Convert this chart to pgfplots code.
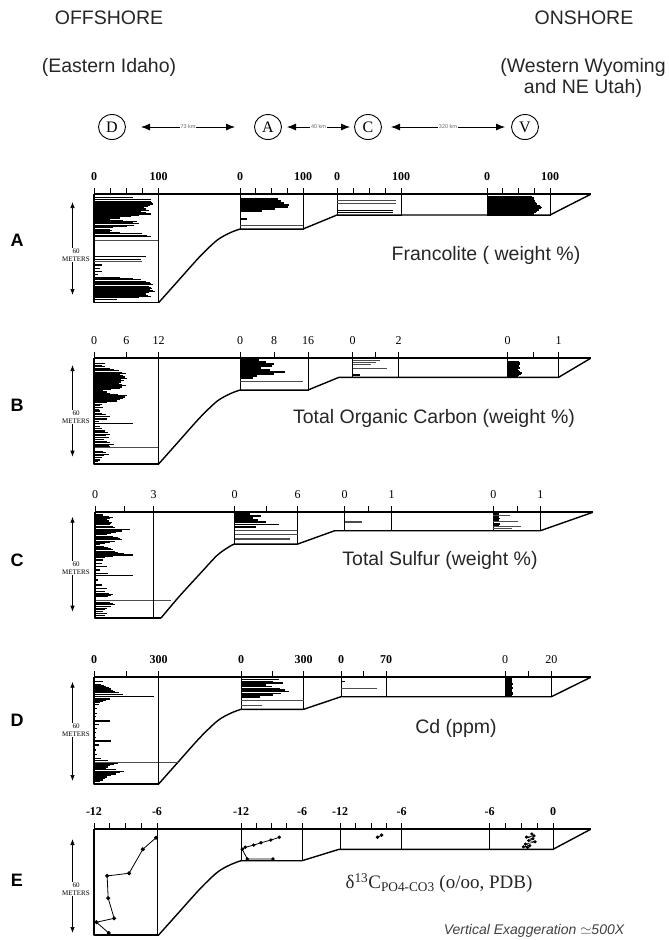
\documentclass[border=0pt]{standalone}
\usepackage{pgfplots}
\pgfplotsset{compat=1.18}
\usepackage{pgfplotstable}
\usepackage{fontspec}
\setmainfont{Liberation Sans}
\newfontfamily\serif{Liberation Serif}
\usetikzlibrary{arrows.meta,shapes.geometric}

\pgfplotsset{
  bg/.style={at={(0pt,0pt)}, anchor=north west, scale only axis,
    width=669pt, height=940pt, xmin=0, xmax=669, ymin=0, ymax=940,
    y dir=reverse, hide axis, clip=false},
  col/.style={scale only axis, anchor=north west, y dir=reverse, ymin=0,
    enlargelimits=false, clip=false,
    axis line style={line width=0.9pt},
    ytick=\empty, xtick pos=right, xticklabel pos=right, tick align=outside,
    major tick length=6pt, minor tick length=6pt,
    tick style={black, line width=0.7pt},
    xticklabel style={font=\serif\fontsize{12}{12}\selectfont, inner sep=0pt,
      text height=8.2pt, text depth=0pt, anchor=south, yshift=8pt}},
  boldlab/.style={xticklabel style={font=\serif\bfseries\fontsize{12}{12}\selectfont}},
  bars/.style={xcomb, black, line width=1.1pt},
  blk/.style={xcomb, black, line width=1.6pt},
  thinbars/.style={xcomb, black!70, line width=0.6pt},
  outline/.style={black, line width=1.4pt, line join=round},
  topline/.style={black, line width=2.2pt},
  pts/.style={black, line width=0.8pt, mark=*, mark size=1.6pt},
}

% ---------- Panel A: Francolite (weight %) ----------
\pgfplotstableread{
d v
2.0 60
3.6 88
4.7 88
5.5 90
6.2 91
7.0 86
7.9 83
8.6 78
9.4 80
10.3 85
11.1 72
11.9 80
12.6 88
13.4 70
14.3 57
15.2 40
16.0 25
16.8 45
17.5 67
18.3 60
19.0 70
19.8 62
20.7 51
21.5 30
22.4 25
23.1 28
23.9 25
24.7 40
25.4 75
26.3 82
27.1 88
40.0 80
41.7 72
43.2 25
45.3 12
47.4 9
49.6 12
51.7 6
53.3 40
54.1 60
54.9 72
55.7 80
56.6 86
57.4 89
58.1 91
58.9 85
59.6 88
60.2 90
60.9 86
61.7 92
62.4 94
63.2 85
63.9 80
64.7 84
65.6 88
66.4 70
67.3 35
}\tabAD
\pgfplotstableread{
d v
43.2 75
}\tabADthin
\pgfplotstableread{
d v
3.0 60
4.3 65
5.6 70
6.9 78
8.1 76
9.4 55
10.7 35
15.8 11
}\tabAA
\pgfplotstableread{
d v
19.8 100
}\tabAAthin
\pgfplotstableread{
d v
3.7 92
5.8 92
}\tabACthin
\pgfplotstableread{
d v
10.5 88
11.7 88
}\tabAC
\pgfplotstableread{
d v
1.5 72
2.2 74
2.9 73
3.6 75
4.3 76
5.0 74
5.7 78
6.4 80
7.1 84
7.8 86
8.5 88
9.2 85
9.9 82
10.6 80
11.3 78
12.0 75
12.7 74
}\tabAV

% ---------- Panel B: TOC (weight %) ----------
\pgfplotstableread{
d v
3.2 2.1
4.7 1.4
5.5 2.0
6.4 3.0
7.2 3.8
8.1 4.6
8.9 5.2
9.6 5.9
10.4 4.8
11.1 5.3
12.0 5.8
12.8 6.2
13.7 5.0
14.5 5.6
15.2 5.1
16.0 4.6
16.8 5.2
17.5 5.9
18.4 5.2
19.2 4.9
20.0 3.2
20.9 1.7
21.6 2.4
22.4 3.0
23.1 4.5
23.9 6.2
24.8 5.8
25.6 5.3
26.5 4.8
27.4 4.3
28.4 2.5
29.5 1.4
30.5 1.2
31.6 1.7
32.7 1.0
33.8 1.1
35.3 1.4
36.3 2.2
37.4 3.0
38.9 2.4
40.5 1.0
42.1 7.2
43.8 1.1
45.2 1.5
46.6 2.1
47.6 2.6
48.7 3.0
49.8 2.2
50.9 2.7
52.1 1.8
53.4 2.4
54.2 3.0
55.1 3.7
55.8 2.8
56.6 3.0
59.8 1.7
60.6 2.2
61.5 2.7
62.6 1.9
63.7 1.4
65.2 1.1
66.3 0.8
}\tabBD
\pgfplotstableread{
d v
1.1 4.5
2.4 6
3.7 8
4.9 7.5
6.2 5
7.5 7
8.8 10.5
10.1 8
11.3 4
12.6 3
}\tabBA
\pgfplotstableread{
d v
15.0 14.8
}\tabBAthin
\pgfplotstableread{
d v
1.1 1.2
2.4 1.0
3.7 0.8
6.4 1.5
}\tabBCthin
\pgfplotstableread{
d v
10.7 0.3
}\tabBC
\pgfplotstableread{
d v
2.4 0.22
3.1 0.24
3.8 0.25
4.5 0.23
5.2 0.22
5.9 0.24
6.6 0.25
7.3 0.20
8.0 0.22
8.7 0.24
9.4 0.28
10.1 0.26
10.8 0.22
11.5 0.20
}\tabBV

% ---------- Panel C: Total sulfur (weight %) ----------
\pgfplotstableread{
d v
1.7 0.42
2.6 0.70
3.4 0.93
4.2 0.75
4.9 0.59
5.6 0.70
6.4 0.85
7.2 0.80
8.1 0.76
9.0 0.90
9.8 1.00
11.3 1.78
12.0 1.40
12.8 1.10
13.7 0.80
14.5 0.60
15.4 0.90
16.2 1.19
17.0 1.30
17.7 1.36
18.5 1.00
19.2 0.76
20.1 0.50
20.9 0.25
21.8 0.45
22.6 0.68
23.4 0.80
24.1 0.93
24.9 1.05
25.6 1.19
26.5 1.50
27.4 1.95
28.2 0.90
29.1 0.50
30.6 0.42
32.7 0.34
34.8 0.60
37.0 0.25
39.1 0.68
40.8 1.95
43.4 0.17
46.6 0.34
49.1 0.60
50.9 0.50
51.8 0.70
52.6 0.93
53.4 0.80
54.1 0.68
57.7 0.76
58.5 0.90
59.4 1.00
60.4 0.80
61.5 0.60
62.6 0.50
63.7 0.42
64.8 0.60
66.0 0.50
}\tabCD
\pgfplotstableread{
d v
1.1 1.5
2.4 2.5
3.7 1.8
4.9 2.2
6.2 3.0
7.8 4.2
9.4 2.0
}\tabCA
\pgfplotstableread{
d v
11.3 5.9
13.9 6.0
16.5 5.3
17.2 5.3
}\tabCAthin
\pgfplotstableread{
d v
5.5 0.38
6.3 0.38
}\tabCCthin
\pgfplotstableread{
d v
1.0 0.12
3.0 0.12
4.0 0.15
5.0 0.12
7.5 0.15
8.5 0.12
10.5 0.12
}\tabCV
\pgfplotstableread{
d v
2.0 0.35
6.0 0.53
9.2 0.58
10.0 0.40
}\tabCVthin

% ---------- Panel D: Cd (ppm) ----------
\pgfplotstableread{
d v
2.8 40
4.5 32
5.3 45
6.0 56
6.8 70
7.5 80
8.3 90
9.2 96
10.0 115
10.9 136
12.4 279
13.9 72
14.7 55
15.6 40
16.4 30
17.3 24
19.9 16
23.1 16
25.3 8
28.0 72
30.1 24
32.7 16
35.3 11
38.7 8
40.8 80
43.4 24
46.6 11
49.4 16
51.9 32
53.5 64
55.1 112
55.9 95
56.7 72
57.5 64
58.3 56
59.2 100
60.1 140
61.0 120
62.0 100
62.9 80
63.9 60
64.8 50
65.8 40
66.8 30
}\tabDD
\pgfplotstableread{
d v
1.4 180
2.8 155
3.8 200
4.9 120
6.0 150
7.1 185
8.1 210
9.2 230
10.3 190
11.3 155
12.6 90
}\tabDA
\pgfplotstableread{
d v
14.6 300
17.8 100
}\tabDAthin
\pgfplotstableread{
d v
2.8 6
}\tabDC
\pgfplotstableread{
d v
7.1 56
}\tabDCthin
\pgfplotstableread{
d v
0.7 3.0
1.4 3.2
2.1 3.0
2.8 2.8
3.5 3.1
4.2 3.3
4.9 3.0
5.6 2.9
6.3 3.2
7.0 3.4
7.7 3.1
8.4 3.0
9.1 2.9
9.8 3.3
10.5 3.5
11.2 3.2
11.9 3.0
}\tabDV

% ---------- Panel E: d13C ----------
\pgfplotstableread{
v d
-6.10 5.4
-7.35 12.8
-8.66 28.2
-10.75 29.9
-10.65 44.2
-10.08 57.1
-11.77 59.6
-10.60 66.5
}\tabED
\pgfplotstableread{
v d
-8.23 5.1
-9.07 6.9
-10.03 8.6
-10.75 10.1
-11.59 11.5
-11.88 12.8
-11.38 19.0
-8.85 19.0
}\tabEA
\pgfplotstableread{
v d
-7.95 3.7
-8.36 5.1
}\tabEC
\pgfplotstableread{
v d
-2.0 3.0
-1.8 4.2
-2.5 5.0
-1.9 6.0
-2.3 7.2
-1.7 8.0
-2.6 9.5
-2.2 10.5
-2.8 11.2
-2.4 11.6
}\tabEV

\begin{document}
\begin{tikzpicture}
\useasboundingbox (0,0) rectangle (669pt,-940pt);

\begin{axis}[bg]
% header
\node[font=\fontsize{19.5}{21}\selectfont, text=black!85] at (axis cs:109,18) {OFFSHORE};
\node[font=\fontsize{19.5}{21}\selectfont, text=black!85] at (axis cs:109,67) {(Eastern Idaho)};
\node[font=\fontsize{19.5}{21}\selectfont, text=black!85] at (axis cs:584,18) {ONSHORE};
\node[font=\fontsize{19.5}{21}\selectfont, text=black!85, align=center] at (axis cs:583,78) {(Western Wyoming\\and NE Utah)};
\foreach \lx/\lt in {112/D,268/A,368/C,525/V}{
  \edef\tmp{\noexpand\node[draw, ellipse, line width=0.9pt, minimum width=27pt, minimum height=25pt, inner sep=0pt, font=\noexpand\serif\noexpand\fontsize{16}{16}\noexpand\selectfont] at (axis cs:\lx,127) {\lt};}\tmp
}
\draw[{Latex[length=9pt,width=7pt]}-{Latex[length=9pt,width=7pt]}, line width=0.8pt, black] (axis cs:141,127) -- (axis cs:235,127);
\draw[{Latex[length=9pt,width=7pt]}-{Latex[length=9pt,width=7pt]}, line width=0.8pt, black] (axis cs:287,127) -- (axis cs:350,127);
\draw[{Latex[length=9pt,width=7pt]}-{Latex[length=9pt,width=7pt]}, line width=0.8pt, black] (axis cs:391,127) -- (axis cs:505,127);
\node[fill=white, inner sep=1pt, font=\fontsize{5.5}{6}\selectfont, text=black!60] at (axis cs:188,127) {73 km};
\node[fill=white, inner sep=1pt, font=\fontsize{5.5}{6}\selectfont, text=black!60] at (axis cs:318.5,127) {40 km};
\node[fill=white, inner sep=1pt, font=\fontsize{5.5}{6}\selectfont, text=black!60] at (axis cs:448,127) {320 km};

% panel letters
\foreach \py/\pl in {240/A,405/B,560/C,720/D,880/E}{
  \edef\tmp{\noexpand\node[font=\noexpand\fontsize{18}{18}\noexpand\selectfont\noexpand\bfseries] at (axis cs:17,\py) {\pl};}\tmp
}

% ===== Panel A outline =====
\addplot[outline] coordinates {(94,194.3) (94,302.7) (158.6,302.7)};
\addplot[outline, smooth] coordinates {(158.6,302.7) (178.95,279.85) (200.1,256.3) (217.2,240.1) (230.2,232.7) (240,229)};
\addplot[outline] coordinates {(240,229) (303,229) (337,215) (550,215) (590.6,194.3)};
\addplot[topline] coordinates {(94,194.3) (590.6,194.3)};
\addplot[black!70, line width=0.6pt] coordinates {(94,240) (158.6,240)};
% ===== Panel B outline =====
\addplot[outline] coordinates {(94,358.3) (94,464) (158.6,464)};
\addplot[outline, smooth] coordinates {(158.6,464) (178.95,441.1) (200.1,417.4) (217.2,401.1) (230.2,393.7) (240,390)};
\addplot[outline] coordinates {(240,390) (308,390) (339,377.3) (558.6,377.3) (590.6,358.3)};
\addplot[topline] coordinates {(94,358.3) (590.6,358.3)};
\addplot[black!70, line width=0.6pt] coordinates {(94,447.7) (158.6,447.7)};
% ===== Panel C outline =====
\addplot[outline] coordinates {(95,512.3) (95,618) (161,618)};
\addplot[outline, smooth] coordinates {(161,618) (179,596.7) (200.4,573.3) (217.5,555) (230.3,546) (234.5,544)};
\addplot[outline] coordinates {(234.5,544) (297.7,544) (334.7,530.7) (540.3,530.7) (592.8,512.3)};
\addplot[topline] coordinates {(95,512.3) (592.8,512.3)};
\addplot[black!70, line width=0.6pt] coordinates {(95,600) (170.6,600)};
% ===== Panel D outline =====
\addplot[outline] coordinates {(94,677.3) (94,784) (158.6,784)};
\addplot[outline, smooth] coordinates {(158.6,784) (179.2,760.8) (200.6,736.9) (217.9,720.5) (231.1,713) (241,709.3)};
\addplot[outline] coordinates {(241,709.3) (303.6,709.3) (341,696.7) (551.4,696.7) (590.6,677.3)};
\addplot[topline] coordinates {(94,677.3) (590.6,677.3)};
\addplot[black!70, line width=0.6pt] coordinates {(94,762.3) (178,762.3)};
% ===== Panel E outline =====
\addplot[outline] coordinates {(94,829.3) (94,935) (158.6,935)};
\addplot[outline, smooth] coordinates {(158.6,935) (179.2,912) (200.6,888.2) (217.9,871.8) (231.1,864.4) (241,860.7)};
\addplot[outline] coordinates {(241,860.7) (302,860.7) (339,849.3) (553,849.3) (590.6,829.3)};
\addplot[topline] coordinates {(94,829.3) (590.6,829.3)};

% scale bars
\foreach \ya/\yb/\ym in {202/295/255, 365/456.7/417, 516.7/611.7/568, 681.7/781/730, 839/933/889}{
  \edef\tmp{\noexpand\draw[{Latex[length=6pt,width=4.5pt]}-{Latex[length=6pt,width=4.5pt]}, line width=0.7pt, black] (axis cs:72.5,\ya) -- (axis cs:72.5,\yb);
  \noexpand\node[fill=white, inner sep=0.5pt, align=center, font=\noexpand\serif\noexpand\fontsize{7}{7.5}\noexpand\selectfont] at (axis cs:76,\ym) {60\noexpand\\METERS};}\tmp
}

% titles
\node[font=\fontsize{19.5}{21}\selectfont, text=black!85] at (axis cs:486,255) {Francolite ( weight \%)};
\node[font=\fontsize{19.5}{21}\selectfont, text=black!85] at (axis cs:434,418) {Total Organic Carbon (weight \%)};
\node[font=\fontsize{19.5}{21}\selectfont, text=black!85] at (axis cs:440,560) {Total Sulfur (weight \%)};
\node[font=\fontsize{19.5}{21}\selectfont, text=black!85] at (axis cs:456,728) {Cd (ppm)};
\node[font=\serif\fontsize{19}{21}\selectfont, text=black!85] at (axis cs:439,883) {δ\textsuperscript{13}C\textsubscript{PO4-CO3} (o/oo, PDB)};
\node[font=\itshape\fontsize{14}{15}\selectfont, text=black!75] at (axis cs:534,931) {Vertical Exaggeration $\simeq$500X};
\end{axis}

% ================= Panel A sub-axes =================
\begin{axis}[col, boldlab, at={(94pt,-194.3pt)}, width=64.6pt, height=108.4pt, xmin=0, xmax=100, ymax=69.5,
  xtick={0,100}, xticklabels={0,100}, minor xtick={25,50,75}]
\addplot[bars] table[x=v,y=d] {\tabAD};
\addplot[thinbars] table[x=v,y=d] {\tabADthin};
\end{axis}
\begin{axis}[col, boldlab, at={(240pt,-194.3pt)}, width=63pt, height=34.7pt, xmin=0, xmax=100, ymax=22.2,
  xtick={0,100}, xticklabels={0,100}, minor xtick={25,50,75}]
\addplot[blk] table[x=v,y=d] {\tabAA};
\addplot[thinbars] table[x=v,y=d] {\tabAAthin};
\end{axis}
\begin{axis}[col, boldlab, at={(337pt,-194.3pt)}, width=64pt, height=20.7pt, xmin=0, xmax=100, ymax=13.3,
  xtick={0,100}, xticklabels={0,100}, minor xtick={25,50,75}]
\addplot[blk] table[x=v,y=d] {\tabAC};
\addplot[thinbars] table[x=v,y=d] {\tabACthin};
\end{axis}
\begin{axis}[col, boldlab, at={(487pt,-194.3pt)}, width=63pt, height=20.7pt, xmin=0, xmax=100, ymax=13.3,
  xtick={0,100}, xticklabels={0,100}, minor xtick={25,50,75}]
\addplot[blk] table[x=v,y=d] {\tabAV};
\end{axis}

% ================= Panel B sub-axes =================
\begin{axis}[col, at={(94pt,-358.3pt)}, width=64.6pt, height=105.7pt, xmin=0, xmax=12, ymax=67.8,
  xtick={0,6,12}, xticklabels={0,6,12}]
\addplot[bars] table[x=v,y=d] {\tabBD};
\end{axis}
\begin{axis}[col, at={(240pt,-358.3pt)}, width=68pt, height=31.7pt, xmin=0, xmax=16, ymax=20.3,
  xtick={0,8,16}, xticklabels={0,8,16}]
\addplot[blk] table[x=v,y=d] {\tabBA};
\addplot[thinbars] table[x=v,y=d] {\tabBAthin};
\end{axis}
\begin{axis}[col, at={(352.7pt,-358.3pt)}, width=46pt, height=19pt, xmin=0, xmax=2, ymax=12.2,
  xtick={0,2}, xticklabels={0,2}, minor xtick={1}]
\addplot[blk] table[x=v,y=d] {\tabBC};
\addplot[thinbars] table[x=v,y=d] {\tabBCthin};
\end{axis}
\begin{axis}[col, at={(507.5pt,-358.3pt)}, width=51.1pt, height=19pt, xmin=0, xmax=1, ymax=12.2,
  xtick={0,1}, xticklabels={0,1}, minor xtick={0.5}]
\addplot[blk] table[x=v,y=d] {\tabBV};
\end{axis}

% ================= Panel C sub-axes =================
\begin{axis}[col, at={(95pt,-512.3pt)}, width=58.5pt, height=105.7pt, xmin=0, xmax=3, ymax=67.8,
  xtick={0,3}, xticklabels={0,3}, minor xtick={1.5}]
\addplot[bars] table[x=v,y=d] {\tabCD};
\end{axis}
\begin{axis}[col, at={(234.5pt,-512.3pt)}, width=63.2pt, height=31.7pt, xmin=0, xmax=6, ymax=20.3,
  xtick={0,6}, xticklabels={0,6}, minor xtick={3}]
\addplot[blk] table[x=v,y=d] {\tabCA};
\addplot[thinbars] table[x=v,y=d] {\tabCAthin};
\end{axis}
\begin{axis}[col, at={(344.6pt,-512.3pt)}, width=46.9pt, height=18.4pt, xmin=0, xmax=1, ymax=11.8,
  xtick={0,1}, xticklabels={0,1}, minor xtick={0.5}]
\addplot[thinbars] table[x=v,y=d] {\tabCCthin};
\end{axis}
\begin{axis}[col, at={(493.4pt,-512.3pt)}, width=46.9pt, height=18.4pt, xmin=0, xmax=1, ymax=11.8,
  xtick={0,1}, xticklabels={0,1}, minor xtick={0.5}]
\addplot[blk] table[x=v,y=d] {\tabCV};
\addplot[thinbars] table[x=v,y=d] {\tabCVthin};
\end{axis}

% ================= Panel D sub-axes =================
\begin{axis}[col, boldlab, at={(94pt,-677.3pt)}, width=64.6pt, height=106.7pt, xmin=0, xmax=300, ymax=68.4,
  xtick={0,300}, xticklabels={0,300}, minor xtick={150}]
\addplot[bars] table[x=v,y=d] {\tabDD};
\end{axis}
\begin{axis}[col, boldlab, at={(241pt,-677.3pt)}, width=62.6pt, height=32pt, xmin=0, xmax=300, ymax=20.5,
  xtick={0,300}, xticklabels={0,300}, minor xtick={150}]
\addplot[blk] table[x=v,y=d] {\tabDA};
\addplot[thinbars] table[x=v,y=d] {\tabDAthin};
\end{axis}
\begin{axis}[col, boldlab, at={(341pt,-677.3pt)}, width=45pt, height=19.4pt, xmin=0, xmax=70, ymax=12.4,
  xtick={0,70}, xticklabels={0,70}, minor xtick={35}]
\addplot[blk] table[x=v,y=d] {\tabDC};
\addplot[thinbars] table[x=v,y=d] {\tabDCthin};
\end{axis}
\begin{axis}[col, at={(505pt,-677.3pt)}, width=46.4pt, height=19.4pt, xmin=0, xmax=20, ymax=12.4,
  xtick={0,20}, xticklabels={0,20}, minor xtick={10}]
\addplot[blk] table[x=v,y=d] {\tabDV};
\end{axis}

% ================= Panel E sub-axes =================
\begin{axis}[col, boldlab, at={(94pt,-829.3pt)}, width=63pt, height=105.7pt, xmin=-12, xmax=-6, ymax=67.8,
  xtick={-12,-6}, xticklabels={-12,-6}, minor xtick={-10.5,-9,-7.5}]
\addplot[pts] table[x=v,y=d] {\tabED};
\end{axis}
\begin{axis}[col, boldlab, at={(241pt,-829.3pt)}, width=61pt, height=31.4pt, xmin=-12, xmax=-6, ymax=20.1,
  xtick={-12,-6}, xticklabels={-12,-6}, minor xtick={-10.5,-9,-7.5}]
\addplot[pts, mark size=1.3pt] table[x=v,y=d] {\tabEA};
\end{axis}
\begin{axis}[col, boldlab, at={(340pt,-829.3pt)}, width=61.7pt, height=20pt, xmin=-12, xmax=-6, ymax=12.8,
  xtick={-12,-6}, xticklabels={-12,-6}, minor xtick={-10.5,-9,-7.5}]
\addplot[pts, mark size=1.3pt] table[x=v,y=d] {\tabEC};
\end{axis}
\begin{axis}[col, boldlab, at={(489.6pt,-829.3pt)}, width=63.4pt, height=20pt, xmin=-6, xmax=0, ymax=12.8,
  xtick={-6,0}, xticklabels={-6,0}, minor xtick={-4.5,-3,-1.5}]
\addplot[pts, mark size=1.3pt, line width=0.6pt] table[x=v,y=d] {\tabEV};
\end{axis}
\end{tikzpicture}
\end{document}
